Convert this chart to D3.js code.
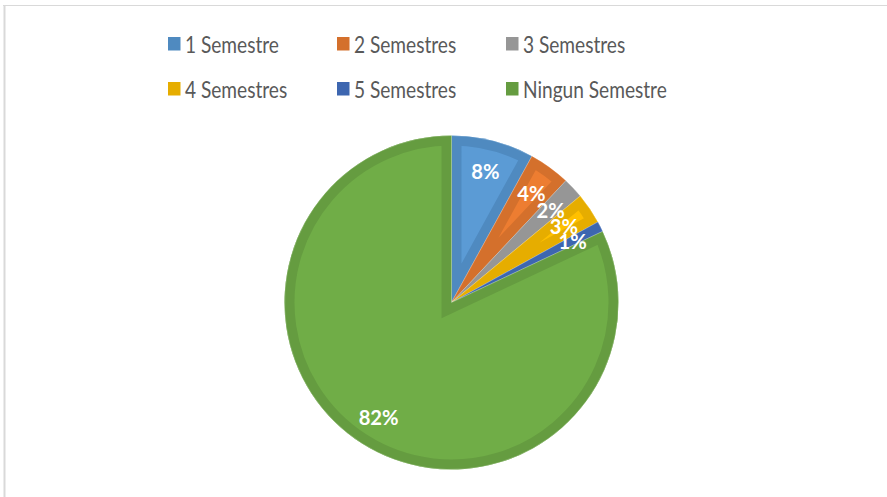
<!DOCTYPE html>
<html><head><meta charset="utf-8">
<script src="https://cdn.jsdelivr.net/npm/d3@7"></script>
<style>body{margin:0;background:#fff;overflow:hidden}</style></head><body>
<svg id="c" width="887" height="497"></svg>
<script>
const categories = ["1 Semestre","2 Semestres","3 Semestres","4 Semestres","5 Semestres","Ningun Semestre"];
const values = [8, 4, 2, 3, 1, 82];
const labels = ["8%","4%","2%","3%","1%","82%"];
const fillColors = ["#5B9BD5","#ED7D31","#A5A5A5","#FFC000","#4472C4","#70AD47"];
const borderColors = ["#4F8AC0","#D4702C","#969696","#E6AD00","#3D66B0","#659C40"];

const svg = d3.select("#c");
// chart border
svg.append("line").attr("x1",3).attr("x2",890).attr("y1",5.5).attr("y2",5.5)
  .attr("stroke","#D9D9D9").attr("stroke-width",1.2);
svg.append("line").attr("x1",4.5).attr("x2",4.5).attr("y1",5).attr("y2",500)
  .attr("stroke","#D9D9D9").attr("stroke-width",2);

const cx = 451.5, cy = 302.5, R = 167;
const pie = d3.pie().sort(null).value(d => d.v);
const data = pie(values.map((v,i)=>({v,i})));
const arc = d3.arc().innerRadius(0).outerRadius(R);
const labelArc = d3.arc().innerRadius(136).outerRadius(136);

const defs = svg.append("defs");
data.forEach((d,i)=>{
  defs.append("clipPath").attr("id","clip"+i).append("path").attr("d", arc(d));
});
const g = svg.append("g").attr("transform",`translate(${cx},${cy})`);
const slices = g.selectAll("g.s").data(data).join("g").attr("class","s");
slices.append("path").attr("d", arc).attr("fill", d=>fillColors[d.index]);
slices.append("path").attr("d", arc).attr("fill","none")
  .attr("stroke", d=>borderColors[d.index]).attr("stroke-width",20)
  .attr("stroke-linejoin","miter")
  .attr("clip-path", d=>`url(#clip${d.index})`);
slices.append("path").attr("d", arc).attr("fill","none")
  .attr("stroke","#ffffff").attr("stroke-opacity",0.35).attr("stroke-width",0.7);

// labels (condensed horizontally like Calibri)
const labG = g.selectAll("g.l").data(data).join("g").attr("class","l")
  .attr("transform", d=>`translate(${labelArc.centroid(d)})`);
const lab = labG.append("text")
  .attr("text-anchor","middle").attr("dominant-baseline","central")
  .attr("fill","#ffffff").attr("font-family","Lato, 'Open Sans', sans-serif")
  .attr("font-weight","bold").attr("font-size",21)
  .text(d=>labels[d.index]);
const w82 = lab.filter(d=>d.index===5).node().getComputedTextLength();
lab.attr("transform", `scale(${40/w82},1)`);

// legend
const legend = svg.append("g");
const colX = d3.scaleLinear().domain([0,1]).range([168, 337]);
const rowY = d3.scaleLinear().domain([0,1]).range([37, 82]);
const items = legend.selectAll("g").data(categories).join("g")
  .attr("transform",(d,i)=>`translate(${colX(i%3)},${rowY(Math.floor(i/3))})`);
items.append("rect").attr("width",12.5).attr("height",13.5)
  .attr("fill",(d,i)=>borderColors[i]);
const lt = items.append("text")
  .attr("dominant-baseline","central")
  .attr("font-family","Lato, 'Open Sans', sans-serif").attr("font-size",22.5)
  .attr("fill","#595959").text(d=>d);
const w1 = lt.filter((d,i)=>i===0).node().getComputedTextLength();
lt.attr("transform", `translate(17,6.5) scale(${94/w1},1)`);
</script></body></html>
